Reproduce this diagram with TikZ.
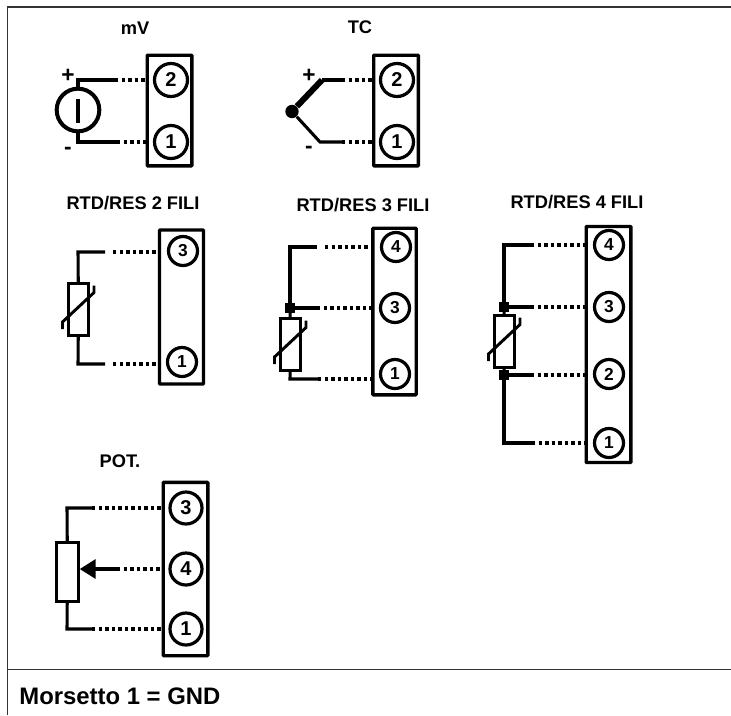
\documentclass[tikz,border=0pt]{standalone}
\usepackage{fontspec}
\setmainfont{Liberation Sans}
\usetikzlibrary{arrows,arrows.meta}
\tikzset{x=0.75pt,y=-0.75pt}

\begin{document}
\begin{tikzpicture}[>=stealth',semithick]
  \tikzstyle{block}=[rectangle,draw=black,line width=2.5pt,rounded corners=0.5pt,inner sep=0pt]
  \tikzstyle{pin}=[circle,draw=black,line width=2.4pt,fill=white,inner sep=0pt,minimum size=21.75pt,font=\fontsize{13}{13}\bfseries]
  \tikzstyle{bigpin}=[pin,minimum size=24.75pt,font=\fontsize{15}{15}\bfseries]
  \tikzstyle{res}=[rectangle,draw=black,fill=white,line width=2.2pt,inner sep=0pt,minimum width=14.5pt,minimum height=39pt]
  \tikzstyle{wire}=[line width=2.3pt,line join=miter]
  \tikzstyle{dots}=[line width=2.3pt,dash pattern=on 2.6pt off 2.3pt]
  \tikzstyle{title}=[font=\fontsize{13.7}{15}\bfseries]
  \tikzstyle{sign}=[font=\fontsize{17}{17}\bfseries]
  \tikzstyle{tie}=[rectangle,fill=black,inner sep=0pt,minimum size=7pt]
  \tikzstyle{slope}=[line width=2.2pt]

  \useasboundingbox (0,0) rectangle (731,715);
  \coordinate (NW) at (7.5,7);
  \coordinate (NE) at (731,7);
  \coordinate (SW) at (7.5,715);
  \coordinate (LL) at (7.5,669.5);
  \coordinate (LR) at (731,669.5);
  \draw[line width=1pt,draw=black!80] (SW) -- (NW) -- (NE);
  \draw[line width=1pt,draw=black!80] (LL) -- (LR);
  \node[anchor=west,inner sep=0pt,font=\fontsize{17.9}{20}\bfseries] (note) at (19,696) {Morsetto 1 = GND};

  % mV
  \node[title] (tmv) at (135,28) {mV};
  \node[block,minimum width=33.5pt,minimum height=83pt] (bmv) at (169.5,110.5) {};
  \node[bigpin] (mv2) at (171,80) {2};
  \node[bigpin] (mv1) at (171,142) {1};
  \node[circle,draw=black,line width=3pt,inner sep=0pt,minimum size=32pt] (src) at (78,110) {};
  \coordinate (mva) at (78,80);
  \coordinate (mvb) at (78,142);
  \coordinate (mvc) at (115,80);
  \coordinate (mvd) at (117,142);
  \coordinate (mve) at (147,80);
  \coordinate (mvf) at (147,142);
  \coordinate (srcu) at (78,99);
  \coordinate (srcd) at (78,123);
  \draw[wire] (src) -- (mva) -- (mvc);
  \draw[wire] (src) -- (mvb) -- (mvd);
  \draw[dots] (mvc) -- (mve);
  \draw[dots] (mvd) -- (mvf);
  \draw[wire] (srcu) -- (srcd);
  \node[sign] (mvp) at (68,76) {+};
  \node[sign] (mvm) at (68,151) {-};

  % TC
  \node[title] (ttc) at (360,27) {TC};
  \node[block,minimum width=33.5pt,minimum height=83pt] (btc) at (396,110.5) {};
  \node[bigpin] (tc2) at (397,80) {2};
  \node[bigpin] (tc1) at (397,142) {1};
  \node[circle,fill=black,inner sep=0pt,minimum size=10pt] (hot) at (292,111.5) {};
  \coordinate (tca) at (322,80);
  \coordinate (tcb) at (320,142);
  \coordinate (tcc) at (342,80);
  \coordinate (tcd) at (342,142);
  \coordinate (tce) at (374,80);
  \coordinate (tcf) at (374,142);
  \draw[line width=4.5pt] (hot) -- (tca);
  \draw[wire] (tca) -- (tcc);
  \draw[wire] (hot) -- (tcb) -- (tcd);
  \draw[dots] (tcc) -- (tce);
  \draw[dots] (tcd) -- (tcf);
  \node[sign] (tcp) at (309,76) {+};
  \node[sign] (tcm) at (309,150) {-};

  % RTD 2
  \node[title] (tra) at (133,203) {RTD/RES 2 FILI};
  \node[block,minimum width=33pt,minimum height=115.5pt] (bra) at (181.5,307) {};
  \node[pin] (ra3) at (183,251) {3};
  \node[pin] (ra1) at (182,362) {1};
  \node[res] (rra) at (78.5,309.5) {};
  \coordinate (raa) at (78,252);
  \coordinate (rab) at (78,364);
  \coordinate (rac) at (105,252);
  \coordinate (rad) at (105,364);
  \coordinate (rag) at (113,252);
  \coordinate (rah) at (113,364);
  \coordinate (rae) at (160,252);
  \coordinate (raf) at (160,364);
  \draw[wire] (rra) -- (raa) -- (rac);
  \draw[wire] (rra) -- (rab) -- (rad);
  \draw[dots] (rag) -- (rae);
  \draw[dots] (rah) -- (raf);
  \draw[slope] (rra) ++(-16,19.5) -- ++(0,-7) -- ++(31.5,-29.5) -- ++(0,-7);

  % RTD 3
  \node[title] (trb) at (363,205) {RTD/RES 3 FILI};
  \node[block,minimum width=32.5pt,minimum height=125pt] (brb) at (394.5,311.5) {};
  \node[pin] (rb4) at (396,247) {4};
  \node[pin] (rb3) at (395,308) {3};
  \node[pin] (rb1) at (395,374) {1};
  \node[res] (rrc) at (290.5,344.5) {};
  \node[tie] (tb) at (290,308) {};
  \coordinate (rba) at (290,247);
  \coordinate (rbb) at (290,379);
  \coordinate (rbc) at (317,247);
  \coordinate (rbd) at (317,308);
  \coordinate (rbe) at (318,379);
  \coordinate (rbi) at (325,247);
  \coordinate (rbf) at (373,247);
  \coordinate (rbg) at (373,308);
  \coordinate (rbh) at (373,379);
  \draw[wire] (tb) -- (rba) -- (rbc);
  \draw[wire] (tb) -- (rbd);
  \draw[wire] (tb) -- (rrc);
  \draw[wire] (rrc) -- (rbb) -- (rbe);
  \draw[dots] (rbi) -- (rbf);
  \draw[dots] (rbd) -- (rbg);
  \draw[dots] (rbe) -- (rbh);
  \draw[slope] (rrc) ++(-16,19.5) -- ++(0,-7) -- ++(31.5,-29.5) -- ++(0,-7);

  % RTD 4
  \node[title] (trc) at (577,202) {RTD/RES 4 FILI};
  \node[block,minimum width=33.5pt,minimum height=177pt] (brc) at (608.5,344.5) {};
  \node[pin] (rc4) at (609,245) {4};
  \node[pin] (rc3) at (609,307) {3};
  \node[pin] (rc2) at (609,374) {2};
  \node[pin] (rc1) at (609,443) {1};
  \node[res] (rre) at (504.5,341.5) {};
  \node[tie] (tc) at (504,307) {};
  \node[tie] (td) at (504,375) {};
  \coordinate (rca) at (504,245);
  \coordinate (rcb) at (504,443);
  \coordinate (rcc) at (531,245);
  \coordinate (rcd) at (531,307);
  \coordinate (rce) at (531,375);
  \coordinate (rcf) at (532,443);
  \coordinate (rcg) at (586,245);
  \coordinate (rch) at (586,307);
  \coordinate (rci) at (586,375);
  \coordinate (rcj) at (586,443);
  \draw[wire] (tc) -- (rca) -- (rcc);
  \draw[wire] (tc) -- (rcd);
  \draw[wire] (tc) -- (rre);
  \draw[wire] (rre) -- (td);
  \draw[wire] (td) -- (rce);
  \draw[wire] (td) -- (rcb) -- (rcf);
  \draw[dots] (rcc) -- (rcg);
  \draw[dots] (rcd) -- (rch);
  \draw[dots] (rce) -- (rci);
  \draw[dots] (rcf) -- (rcj);
  \draw[slope] (rre) ++(-16,19.5) -- ++(0,-7) -- ++(31.5,-29.5) -- ++(0,-7);

  % POT
  \node[title] (tpo) at (120,461) {POT.};
  \node[block,minimum width=33.5pt,minimum height=130pt] (bpo) at (185.5,569) {};
  \node[bigpin,minimum size=24pt] (po3) at (186,508) {3};
  \node[bigpin,minimum size=24pt] (po4) at (186,569) {4};
  \node[bigpin,minimum size=24pt] (po1) at (186,629) {1};
  \node[res,minimum width=16pt,minimum height=44pt] (rrf) at (67.5,572) {};
  \coordinate (poa) at (67,508);
  \coordinate (pob) at (67,629);
  \coordinate (poc) at (92,508);
  \coordinate (pod) at (92,629);
  \coordinate (poe) at (117,569);
  \coordinate (pof) at (163,508);
  \coordinate (pog) at (163,569);
  \coordinate (poh) at (163,629);
  \draw[wire] (rrf) -- (poa) -- (poc);
  \draw[wire] (rrf) -- (pob) -- (pod);
  \draw[-{Triangle[length=12pt,width=14pt]},line width=3pt] (poe) -- (rrf.east |- poe);
  \draw[dots] (poc) -- (pof);
  \draw[dots] (poe) -- (pog);
  \draw[dots] (pod) -- (poh);
\end{tikzpicture}
\end{document}
